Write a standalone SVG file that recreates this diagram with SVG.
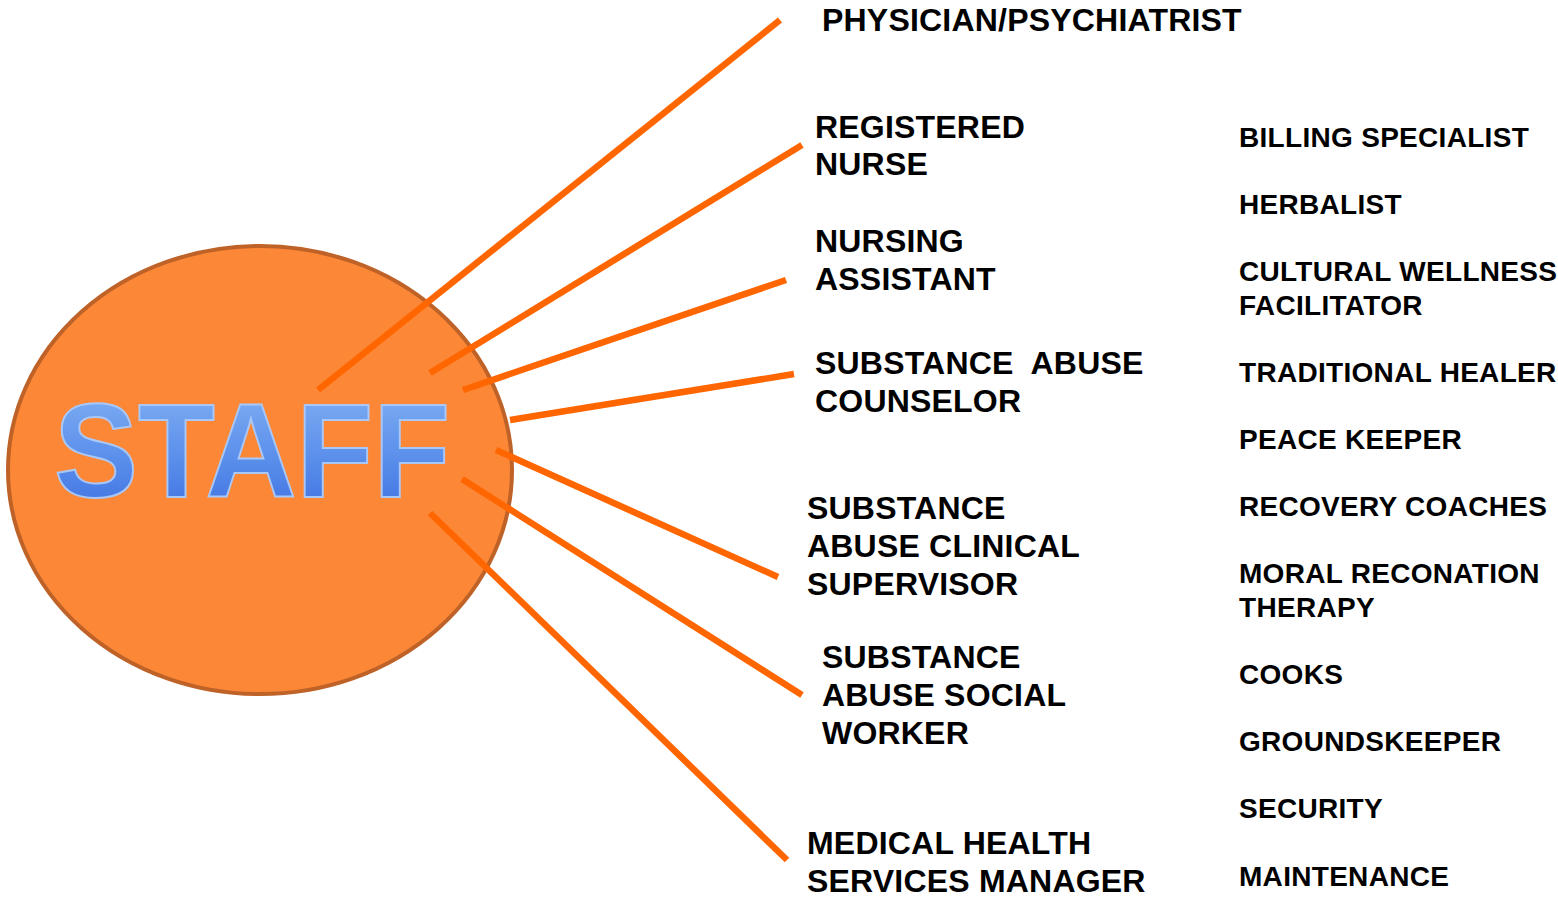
<svg xmlns="http://www.w3.org/2000/svg" width="1558" height="898" viewBox="0 0 1558 898">
<defs>
<linearGradient id="blue" x1="0" y1="0" x2="0" y2="1">
<stop offset="0" stop-color="#86B4F4"/>
<stop offset="0.5" stop-color="#5E92EC"/>
<stop offset="1" stop-color="#3C6EE0"/>
</linearGradient>
</defs>
<style>
.l{font-family:"Liberation Sans",Arial,sans-serif;font-weight:bold;font-size:32px;fill:#000;letter-spacing:0.2px}
.r{font-family:"Liberation Sans",Arial,sans-serif;font-weight:bold;font-size:28px;fill:#000;letter-spacing:0.3px}
.c{stroke:#FF6600;stroke-width:6.5;fill:none}
</style>
<rect width="1558" height="898" fill="#fff"/>
<g id="staff">
<ellipse cx="260" cy="470" rx="252" ry="224" fill="#FC8837" stroke="#BF6228" stroke-width="4"/>
<text x="54" y="497" textLength="396" lengthAdjust="spacingAndGlyphs" font-family="Liberation Sans,Arial,sans-serif" font-weight="bold" font-size="133" fill="url(#blue)" stroke="#A9C8F8" stroke-width="2">STAFF</text>
</g>
<g id="connectors">
<line class="c" x1="318" y1="390" x2="780" y2="20"/>
<line class="c" x1="430" y1="373" x2="802" y2="145"/>
<line class="c" x1="463" y1="390" x2="786" y2="280"/>
<line class="c" x1="510" y1="420" x2="794" y2="374"/>
<line class="c" x1="496" y1="450" x2="778" y2="577"/>
<line class="c" x1="462" y1="479" x2="802" y2="695"/>
<line class="c" x1="430" y1="513" x2="787" y2="860"/>
</g>
<g id="physician"><text class="l" x="822" y="31">PHYSICIAN/PSYCHIATRIST</text></g>
<g id="rn"><text class="l" x="815" y="138">REGISTERED</text><text class="l" x="815" y="175">NURSE</text></g>
<g id="na"><text class="l" x="815" y="252">NURSING</text><text class="l" x="815" y="290">ASSISTANT</text></g>
<g id="sac"><text class="l" x="815" y="374" xml:space="preserve">SUBSTANCE  ABUSE</text><text class="l" x="815" y="412">COUNSELOR</text></g>
<g id="sacs"><text class="l" x="807" y="519">SUBSTANCE</text><text class="l" x="807" y="557">ABUSE CLINICAL</text><text class="l" x="807" y="595">SUPERVISOR</text></g>
<g id="sasw"><text class="l" x="822" y="668">SUBSTANCE</text><text class="l" x="822" y="706">ABUSE SOCIAL</text><text class="l" x="822" y="744">WORKER</text></g>
<g id="mhsm"><text class="l" x="807" y="854">MEDICAL HEALTH</text><text class="l" x="807" y="892">SERVICES MANAGER</text></g>
<g id="others">
<text class="r" x="1239" y="147">BILLING SPECIALIST</text>
<text class="r" x="1239" y="214">HERBALIST</text>
<text class="r" x="1239" y="281">CULTURAL WELLNESS</text>
<text class="r" x="1239" y="315">FACILITATOR</text>
<text class="r" x="1239" y="382">TRADITIONAL HEALER</text>
<text class="r" x="1239" y="449">PEACE KEEPER</text>
<text class="r" x="1239" y="516">RECOVERY COACHES</text>
<text class="r" x="1239" y="583">MORAL RECONATION</text>
<text class="r" x="1239" y="617">THERAPY</text>
<text class="r" x="1239" y="684">COOKS</text>
<text class="r" x="1239" y="751">GROUNDSKEEPER</text>
<text class="r" x="1239" y="818">SECURITY</text>
<text class="r" x="1239" y="886">MAINTENANCE</text>
</g>
</svg>
